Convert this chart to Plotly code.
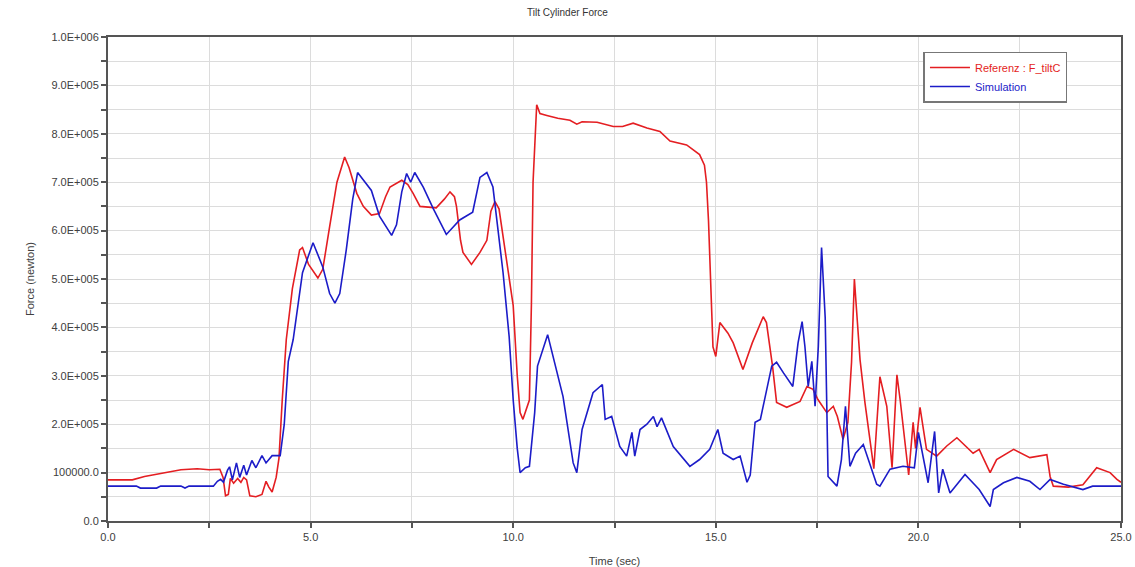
import plotly.graph_objects as go

ref_t = [0.0, 0.6, 0.9, 1.3, 1.8, 2.2, 2.5, 2.76, 2.84, 2.9, 2.97, 3.02, 3.1, 3.2, 3.28, 3.35, 3.42, 3.5, 3.65, 3.8, 3.9, 3.97, 4.05, 4.15, 4.22, 4.3, 4.4, 4.55, 4.73, 4.8, 4.95, 5.18, 5.3, 5.47, 5.65, 5.84, 5.95, 6.14, 6.3, 6.5, 6.7, 6.85, 6.96, 7.25, 7.4, 7.53, 7.7, 8.1, 8.3, 8.44, 8.55, 8.6, 8.7, 8.76, 8.97, 9.18, 9.35, 9.45, 9.55, 9.65, 9.8, 10.0, 10.1, 10.17, 10.24, 10.4, 10.45, 10.49, 10.58, 10.66, 10.83, 11.1, 11.4, 11.57, 11.7, 12.07, 12.47, 12.7, 12.96, 13.3, 13.62, 13.87, 14.28, 14.6, 14.72, 14.77, 14.82, 14.88, 14.93, 15.0, 15.1, 15.3, 15.43, 15.67, 15.9, 16.17, 16.25, 16.4, 16.5, 16.75, 17.08, 17.25, 17.4, 17.52, 17.74, 17.9, 18.0, 18.14, 18.26, 18.35, 18.42, 18.47, 18.56, 18.68, 18.9, 19.05, 19.22, 19.35, 19.47, 19.55, 19.63, 19.76, 19.87, 19.93, 20.04, 20.2, 20.45, 20.7, 20.95, 21.35, 21.5, 21.77, 21.93, 22.35, 22.75, 23.17, 23.25, 23.33, 23.7, 24.06, 24.4, 24.73, 24.9, 25.0]
ref_f = [85000, 85000, 92000, 98000, 106000, 108000, 106000, 107000, 90000, 52000, 55000, 88000, 78000, 88000, 80000, 90000, 85000, 52000, 50000, 55000, 82000, 70000, 60000, 90000, 130000, 250000, 375000, 480000, 560000, 565000, 530000, 502000, 520000, 608000, 700000, 752000, 730000, 677000, 650000, 632000, 635000, 670000, 690000, 704000, 695000, 677000, 650000, 647000, 665000, 680000, 670000, 650000, 580000, 555000, 530000, 555000, 580000, 640000, 660000, 645000, 555000, 445000, 300000, 224000, 210000, 250000, 450000, 700000, 860000, 842000, 838000, 832000, 828000, 820000, 825000, 824000, 815000, 815000, 822000, 812000, 805000, 785000, 777000, 757000, 735000, 700000, 620000, 450000, 360000, 340000, 410000, 388000, 368000, 313000, 368000, 422000, 410000, 320000, 245000, 235000, 247000, 278000, 272000, 251000, 224000, 237000, 216000, 169000, 204000, 328000, 500000, 440000, 333000, 245000, 108000, 298000, 237000, 110000, 302000, 250000, 190000, 95000, 204000, 150000, 235000, 148000, 134000, 155000, 172000, 140000, 148000, 100000, 127000, 148000, 131000, 137000, 92000, 72000, 70000, 75000, 110000, 100000, 86000, 80000]

sim_t = [0.0, 0.7, 0.8, 1.2, 1.3, 1.8, 1.9, 2.0, 2.6, 2.7, 2.78, 2.85, 2.95, 3.0, 3.07, 3.17, 3.25, 3.35, 3.42, 3.55, 3.65, 3.8, 3.9, 4.05, 4.25, 4.35, 4.45, 4.57, 4.8, 5.06, 5.3, 5.47, 5.6, 5.72, 5.88, 6.04, 6.16, 6.3, 6.5, 6.7, 6.85, 7.0, 7.12, 7.25, 7.37, 7.47, 7.57, 7.78, 8.03, 8.35, 8.68, 9.0, 9.18, 9.35, 9.5, 9.75, 9.9, 10.0, 10.1, 10.17, 10.3, 10.4, 10.53, 10.6, 10.85, 11.07, 11.23, 11.48, 11.57, 11.7, 11.97, 12.2, 12.27, 12.43, 12.63, 12.8, 12.93, 13.0, 13.13, 13.3, 13.46, 13.55, 13.66, 13.95, 14.36, 14.6, 14.85, 15.05, 15.18, 15.43, 15.6, 15.77, 15.85, 15.97, 16.1, 16.38, 16.5, 16.67, 16.9, 17.03, 17.13, 17.2, 17.28, 17.37, 17.45, 17.53, 17.61, 17.7, 17.77, 17.99, 18.1, 18.2, 18.31, 18.45, 18.64, 18.97, 19.05, 19.3, 19.62, 19.9, 20.0, 20.24, 20.4, 20.5, 20.6, 20.78, 21.15, 21.5, 21.77, 21.85, 22.1, 22.43, 22.75, 23.0, 23.25, 23.58, 24.06, 24.3, 25.0]
sim_f = [72000, 72000, 68000, 68000, 72000, 72000, 68000, 72000, 72000, 82000, 86000, 80000, 105000, 112000, 85000, 120000, 90000, 115000, 95000, 125000, 110000, 135000, 120000, 135000, 135000, 200000, 330000, 375000, 513000, 575000, 525000, 470000, 450000, 470000, 560000, 665000, 720000, 704000, 683000, 630000, 610000, 590000, 612000, 680000, 718000, 700000, 720000, 690000, 645000, 592000, 622000, 638000, 710000, 720000, 690000, 513000, 381000, 250000, 150000, 100000, 110000, 113000, 224000, 320000, 385000, 313000, 257000, 120000, 100000, 189000, 265000, 282000, 210000, 216000, 154000, 134000, 183000, 134000, 189000, 200000, 216000, 195000, 213000, 154000, 113000, 127000, 148000, 189000, 140000, 127000, 134000, 80000, 95000, 204000, 210000, 320000, 328000, 306000, 278000, 368000, 412000, 360000, 278000, 330000, 237000, 360000, 565000, 420000, 92000, 72000, 127000, 237000, 113000, 140000, 158000, 76000, 72000, 107000, 113000, 110000, 183000, 79000, 185000, 58000, 107000, 58000, 96000, 65000, 30000, 65000, 79000, 90000, 82000, 65000, 86000, 76000, 65000, 72000, 72000]

y_tickvals = [0, 100000, 200000, 300000, 400000, 500000, 600000, 700000, 800000, 900000, 1000000]
y_ticktext = ["0.0", "100000.0", "2.0E+005", "3.0E+005", "4.0E+005", "5.0E+005",
              "6.0E+005", "7.0E+005", "8.0E+005", "9.0E+005", "1.0E+006"]
x_tickvals = [0, 5, 10, 15, 20, 25]
x_ticktext = ["0.0", "5.0", "10.0", "15.0", "20.0", "25.0"]

RED = "#e41e22"
BLUE = "#1c1cc8"
FONT = "Liberation Sans, Arial"

fig = go.Figure()
fig.add_trace(go.Scatter(x=ref_t, y=ref_f, mode="lines",
                         name=f"<span style='color:{RED}'>Referenz : F_tiltC</span>",
                         line=dict(color=RED, width=1.6)))
fig.add_trace(go.Scatter(x=sim_t, y=sim_f, mode="lines",
                         name=f"<span style='color:{BLUE}'>Simulation</span>",
                         line=dict(color=BLUE, width=1.6)))

axis_common = dict(
    showline=True, linecolor="#555555", linewidth=2, mirror=True,
    ticks="outside", ticklen=5, tickcolor="#555555", tickwidth=1.5,
    gridcolor="#dcdcdc", gridwidth=1, zeroline=False, automargin=False,
    tickfont=dict(family=FONT, size=11, color="#404040"),
)

fig.update_xaxes(range=[0, 25], tickvals=x_tickvals, ticktext=x_ticktext,
                 minor=dict(dtick=2.5, tick0=0, ticks="outside", ticklen=5,
                            tickcolor="#555555", showgrid=True, gridcolor="#dcdcdc"),
                 title=dict(text="Time (sec)",
                            font=dict(family=FONT, size=11, color="#404040")),
                 **axis_common)
fig.update_yaxes(range=[0, 1000000], tickvals=y_tickvals, ticktext=y_ticktext,
                 minor=dict(dtick=50000, tick0=0, ticks="outside", ticklen=5,
                            tickcolor="#555555", showgrid=True, gridcolor="#dcdcdc"),
                 title=dict(text="Force (newton)",
                            font=dict(family=FONT, size=11, color="#404040")),
                 **axis_common)

fig.update_layout(
    width=1135, height=567,
    margin=dict(l=108, r=14, t=37, b=46, autoexpand=False),
    paper_bgcolor="white", plot_bgcolor="white",
    title=dict(text="Tilt Cylinder Force", x=0.5, xanchor="center", y=0.985, yanchor="top",
               font=dict(family=FONT, size=10, color="#333333")),
    showlegend=True,
    legend=dict(x=0.805, y=0.97, xanchor="left", yanchor="top",
                bgcolor="white", bordercolor="#777777", borderwidth=1.5,
                font=dict(family=FONT, size=11),
                tracegroupgap=0, itemwidth=40),
)

fig.write_html("out.html",
               config={"displayModeBar": False},
               post_script="document.body.style.margin='0';document.body.style.overflow='hidden';")
